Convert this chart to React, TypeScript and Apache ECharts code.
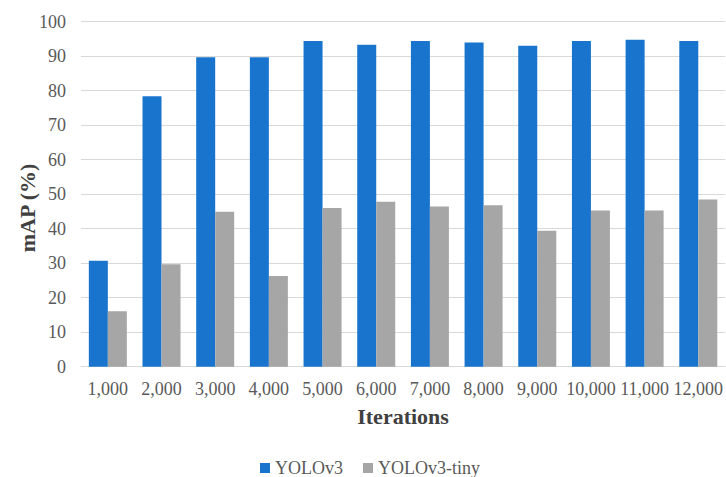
import React, { useEffect, useRef } from "react";
import * as echarts from "echarts";

const categories = ["1,000", "2,000", "3,000", "4,000", "5,000", "6,000", "7,000", "8,000", "9,000", "10,000", "11,000", "12,000"];
const yolov3 = [30.7, 78.4, 89.7, 89.7, 94.4, 93.3, 94.4, 94.0, 93.0, 94.4, 94.8, 94.4];
const yolov3Tiny = [16.1, 29.7, 44.9, 26.3, 46.0, 47.8, 46.4, 46.8, 39.4, 45.3, 45.3, 48.5];
const yTicks = { min: 0, max: 100, interval: 10 };

const FONT = "'Liberation Serif', 'Times New Roman', serif";

export default function App() {
  const ref = useRef<HTMLDivElement>(null);
  useEffect(() => {
    if (!ref.current) return;
    const chart = echarts.init(ref.current, undefined, { renderer: "svg" });
    chart.setOption({
      animation: false,
      backgroundColor: "#ffffff",
      textStyle: { fontFamily: FONT },
      grid: { left: 81, right: 0, top: 21.7, bottom: 110.3, containLabel: false },
      legend: {
        data: ["YOLOv3", "YOLOv3-tiny"],
        top: 454,
        left: 255,
        icon: "rect",
        itemWidth: 10,
        itemHeight: 10,
        itemGap: 20,
        textStyle: { fontFamily: FONT, fontSize: 18, color: "#595959" },
      },
      xAxis: {
        type: "category",
        data: categories,
        name: "Iterations",
        nameLocation: "middle",
        nameGap: 39,
        nameTextStyle: { fontFamily: FONT, fontSize: 22, fontWeight: "bold", color: "#404040" },
        axisLine: { show: true, lineStyle: { color: "#d9d9d9", width: 1 } },
        axisTick: { show: false },
        axisLabel: { fontFamily: FONT, fontSize: 18, color: "#595959", margin: 13, interval: 0 },
      },
      yAxis: {
        type: "value",
        min: yTicks.min,
        max: yTicks.max,
        interval: yTicks.interval,
        axisLine: { show: false },
        axisTick: { show: false },
        splitLine: { lineStyle: { color: "#d9d9d9", width: 1 } },
        axisLabel: { fontFamily: FONT, fontSize: 18, color: "#595959", margin: 15 },
      },
      graphic: [
        {
          type: "text",
          x: 27,
          y: 208,
          rotation: Math.PI / 2,
          style: {
            text: "mAP (%)",
            fontFamily: FONT,
            fontSize: 22,
            fontWeight: "bold",
            fill: "#404040",
            align: "center",
            verticalAlign: "middle",
          },
        },
      ],
      series: [
        {
          name: "YOLOv3",
          type: "bar",
          data: yolov3,
          barWidth: 19,
          barGap: "0%",
          itemStyle: { color: "#1874CD" },
        },
        {
          name: "YOLOv3-tiny",
          type: "bar",
          data: yolov3Tiny,
          barWidth: 19,
          barGap: "0%",
          itemStyle: { color: "#A6A6A6" },
        },
      ],
    });
    return () => chart.dispose();
  }, []);
  return (
    <div
      ref={ref}
      style={{ position: "fixed", left: 0, top: 0, width: 726, height: 477, overflow: "hidden" }}
    />
  );
}
